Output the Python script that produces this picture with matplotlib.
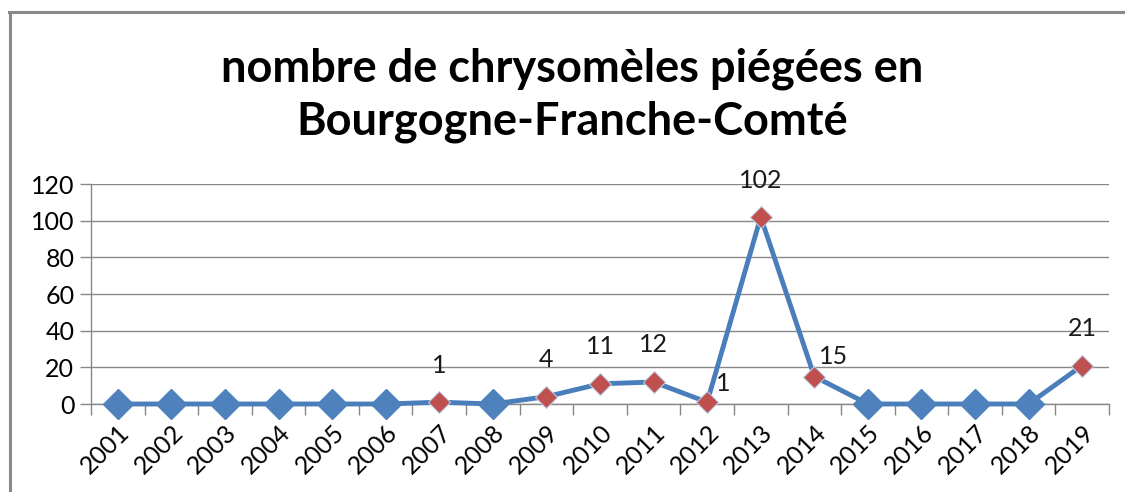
import numpy as np
import matplotlib
matplotlib.use("Agg")
import matplotlib.pyplot as plt
from matplotlib.lines import Line2D

plt.rcParams['font.family'] = ['Lato', 'DejaVu Sans']

years = [str(y) for y in range(2001, 2020)]
counts = [0, 0, 0, 0, 0, 0, 1, 0, 4, 11, 12, 1, 102, 15, 0, 0, 0, 0, 21]
title = "nombre de chrysomèles piégées en\nBourgogne-Franche-Comté"
yticks = [0, 20, 40, 60, 80, 100, 120]

# label offsets in pixels (Excel labels moved by hand on a few points)
label_offsets = {"2012": (16, 19), "2014": (19, 20)}

blue = "#4A7EBB"
red = "#C0504D"

fig = plt.figure(figsize=(11.25, 4.92), dpi=100)
ax = fig.add_axes([91 / 1125, 1 - 404 / 492, (1109 - 91) / 1125, 220 / 492])

x = np.arange(len(years))
y = np.array(counts)
ax.plot(x, y, color=blue, lw=3.5, zorder=3, clip_on=False)
zero = y == 0
ax.plot(x[zero], y[zero], 'D', ms=15, color="#4F81BD", mec="#4F81BD", zorder=4,
        ls='none', clip_on=False)
ax.plot(x[~zero], y[~zero], 'D', ms=11, color=red, mec="#B9CDE5", mew=0.8, zorder=5,
        ls='none', clip_on=False)

for xi, yi, yr in zip(x, y, years):
    if yi == 0:
        continue
    dx, dy = label_offsets.get(yr, (0, 37))
    ax.annotate(str(yi), (xi, yi), xytext=(dx, dy), textcoords='offset pixels',
                ha='center', va='center', fontsize=18, color='#1a1a1a')

ax.set_xlim(-0.5, len(years) - 0.5)
ax.set_ylim(0, 120)
ax.set_yticks(yticks)
ax.set_xticks(x)
ax.set_xticklabels(years, rotation=45, ha='right', rotation_mode='anchor')
ax.set_xticks(np.arange(-0.5, len(years)), minor=True)
ax.tick_params(axis='x', which='major', length=0, labelsize=18, pad=12)
ax.tick_params(axis='x', which='minor', length=8, color='#888888', width=1)
ax.tick_params(axis='y', length=8, color='#888888', width=1, labelsize=18, pad=4)
ax.grid(axis='y', color='#888888', lw=1)
ax.set_axisbelow(True)
for s in ['top', 'right']:
    ax.spines[s].set_visible(False)
for s in ['left', 'bottom']:
    ax.spines[s].set_color('#888888')
    ax.spines[s].set_linewidth(1)

fig.text(572 / 1125, 1 - 95 / 492, title, ha='center', va='center',
         fontsize=32.5, fontweight='bold', linespacing=1.3)

# figure border (left and top edges visible in the crop)
fig.add_artist(Line2D([9.5 / 1125, 9.5 / 1125], [0, 1 - 12 / 492], color='#888888', lw=2.2))
fig.add_artist(Line2D([8.5 / 1125, 1], [1 - 12 / 492, 1 - 12 / 492], color='#888888', lw=2.2))

fig.savefig("out.png", dpi=100)
